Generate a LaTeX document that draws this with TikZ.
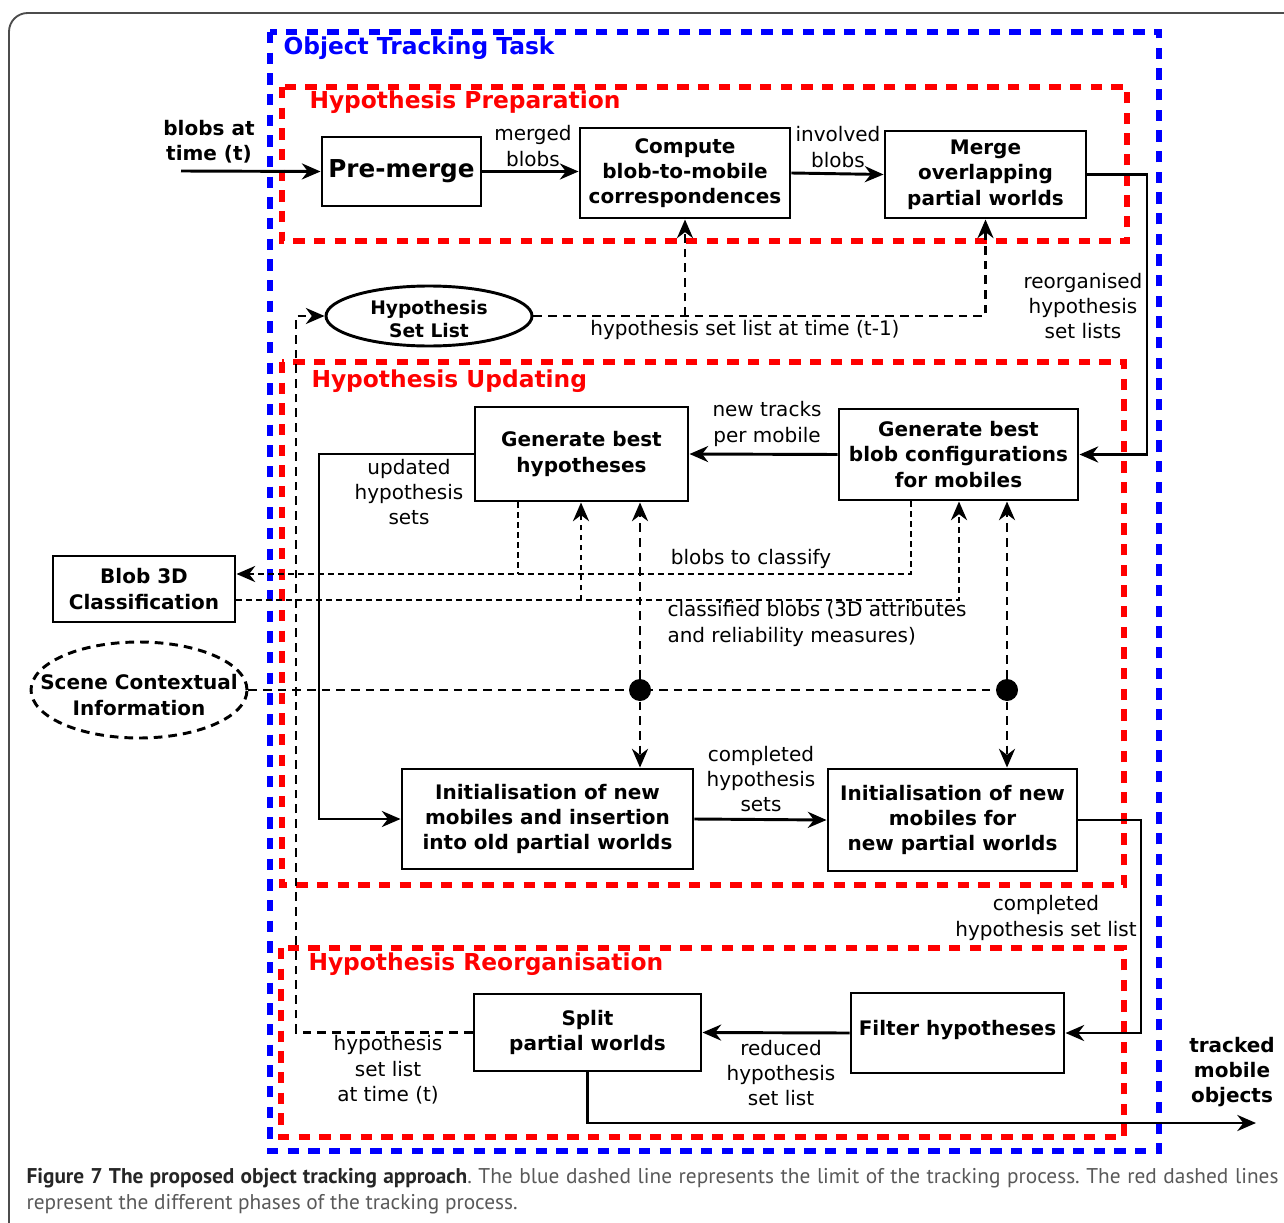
\documentclass[tikz,border=0pt]{standalone}
\usepackage{fontspec}
\setmainfont{DejaVu Sans}
\newfontfamily\captionfont{PT Sans}
\usetikzlibrary{arrows.meta,shapes.geometric}

\tikzset{every picture/.style={line width=0.75pt}}
\tikzset{
  box/.style={draw, line width=2.2pt, align=center, inner sep=0pt, font=\bfseries\fontsize{15}{19}\selectfont},
  lbl/.style={align=center, inner sep=0pt, font=\fontsize{15}{19}\selectfont},
  blbl/.style={align=center, inner sep=0pt, font=\bfseries\fontsize{15}{19}\selectfont},
  limit/.style={draw=blue, line width=3.8pt, dash pattern=on 8.5pt off 7pt},
  phase/.style={draw=red, line width=3.8pt, dash pattern=on 8.5pt off 7pt},
  ptitle/.style={anchor=west, inner sep=0pt, font=\bfseries\fontsize{17.5}{20}\selectfont},
  solidln/.style={line width=2.2pt},
  dashln/.style={line width=2.2pt, dash pattern=on 6.5pt off 4.5pt},
  dotln/.style={line width=2.2pt, dash pattern=on 4pt off 3.5pt},
  arr/.style={-{Stealth[length=14pt,width=12pt,inset=4.5pt]}},
  blob/.style={circle, fill, inner sep=0pt, minimum size=16.5pt},
}

\begin{document}
\begin{tikzpicture}[x=0.75pt,y=0.75pt,yscale=-1,xscale=1]
        \useasboundingbox (0,0) rectangle (1284,1223);
        \clip (0,0) rectangle (1284,1223);

        %Shape: Rounded Rectangle [frame]
        \draw [line width=1.4pt, color=black!70, rounded corners=14pt] (9,13) rectangle (1320,1260);

        %Shape: Rectangle [tracking task]
        \draw [limit] (270,32) rectangle (1159,1151);
        %Shape: Rectangle [phases]
        \draw [phase] (282,87) rectangle (1127,241);
        \draw [phase] (282,362) rectangle (1124,885);
        \draw [phase] (281,948) rectangle (1124,1137);

        % Titles
        \draw (283,48) node [ptitle, text=blue] (ttask) {Object Tracking Task};
        \draw (309,102) node [ptitle, text=red] (tprep) {Hypothesis Preparation};
        \draw (311,381) node [ptitle, text=red] (tupd) {Hypothesis Updating};
        \draw (308,964) node [ptitle, text=red] (treorg) {Hypothesis Reorganisation};

        % Process boxes
        \draw (401.5,171.5) node [box, minimum width=119.25pt, minimum height=51.75pt, font=\bfseries\fontsize{18.5}{22}\selectfont] (premerge) {Pre-merge};
        \draw (685,173) node [box, minimum width=157.5pt, minimum height=67.5pt] (compute) {Compute\\blob-to-mobile\\correspondences};
        \draw (985.5,174.5) node [box, minimum width=150.75pt, minimum height=65.25pt] (merge) {Merge\\overlapping\\partial worlds};
        \draw (581.5,454) node [box, minimum width=159.75pt, minimum height=70.5pt] (genhyp) {Generate best\\hypotheses};
        \draw (958.5,454.5) node [box, minimum width=179.25pt, minimum height=68.25pt] (blobcfg) {Generate best\\blob configurations\\for mobiles};
        \draw (144,589) node [box, minimum width=136.5pt, minimum height=49.5pt] (blobclass) {Blob 3D\\Classification};
        \draw (547.5,819) node [box, minimum width=218.25pt, minimum height=75pt] (initold) {Initialisation of new\\mobiles and insertion\\into old partial worlds};
        \draw (952.5,820) node [box, minimum width=186.75pt, minimum height=76.5pt] (initnew) {Initialisation of new\\mobiles for\\new partial worlds};
        \draw (957.5,1033) node [box, minimum width=159.75pt, minimum height=60pt] (filter) {};
        \draw (957.5,1030) node [blbl] (filtertxt) {Filter hypotheses};
        \draw (587.5,1032.5) node [box, minimum width=170.25pt, minimum height=57.75pt] (split) {Split\\partial worlds};

        %Shape: Ellipse
        \draw (429,316) node [ellipse, draw, line width=2.2pt, minimum width=154.5pt, minimum height=45pt] (hsl) {};
        \draw (429,319) node [blbl, font=\bfseries\fontsize{14}{17}\selectfont] (hsltxt) {Hypothesis\\Set List};
        \draw (139,690) node [ellipse, draw, dashln, minimum width=162pt, minimum height=72pt] (scene) {};
        \draw (139,695) node [blbl] (scenetxt) {Scene Contextual\\Information};

        % Junctions
        \draw (640,690) node [blob] (jold) {};
        \draw (1007,690) node [blob] (jnew) {};

        % Bend points
        \coordinate (input) at (181,171);
        \coordinate (reorg) at (1147,300);
        \coordinate (upd) at (319,454);
        \coordinate (cmpl) at (1141,900);
        \coordinate (fbk) at (296,316);
        \coordinate (toclass) at (911,574);
        \coordinate (toclass2) at (518,574);
        \coordinate (classd) at (959,600);
        \coordinate (classd2) at (581,600);
        \coordinate (tracked) at (1256,1123);

        %Straight Lines [solid flow]
        \draw [solidln, arr] (input) -- (premerge.west);
        \draw [solidln, arr] (premerge.east) -- (compute.west |- premerge.east);
        \draw [solidln, arr] (compute.east) -- (merge.west);
        \draw [solidln, arr] (merge.east) -| (reorg) |- (blobcfg.east);
        \draw [solidln, arr] (blobcfg.west) -- (genhyp.east);
        \draw [solidln, arr] (genhyp.west) -- (upd) |- (initold.west);
        \draw [solidln, arr] (initold.east) -- (initnew.west);
        \draw [solidln, arr] (initnew.east) -| (cmpl) |- (filter.east);
        \draw [solidln, arr] (filter.west) -- (split.east);
        \draw [solidln, arr] (split.south) |- (tracked);

        %Straight Lines [hypothesis set list]
        \draw [dashln, arr] (hsl.east) -| (merge.south);
        \draw [dashln, arr] (compute.south |- hsl.east) -- (compute.south);
        \draw [dashln, arr] (split.west) -| (fbk) -- (hsl.west);

        %Straight Lines [classification]
        \draw [dotln, arr] (blobcfg.south -| toclass) -- (toclass) -- (blobclass.east |- toclass);
        \draw [dotln] (genhyp.south -| toclass2) -- (toclass2);
        \draw [dotln, arr] (blobclass.east |- classd) -- (classd) -- (blobcfg.south -| classd);
        \draw [dotln, arr] (classd2) -- (genhyp.south -| classd2);

        %Straight Lines [scene context]
        \draw [dashln] (scene.east) -- (jnew);
        \draw [dashln, arr] (jold) -- (genhyp.south -| jold);
        \draw [dashln, arr] (jold) -- (initold.north -| jold);
        \draw [dashln, arr] (jnew) -- (blobcfg.south -| jnew);
        \draw [dashln, arr] (jnew) -- (initnew.north -| jnew);

        % Text Node
        \draw (209,142) node [blbl] (inlbl) {blobs at\\time (t)};
        \draw (533,146) node [lbl] (mergedlbl) {merged\\blobs};
        \draw (838,147) node [lbl] (involvedlbl) {involved\\blobs};
        \draw (1083,306) node [lbl] (reorglbl) {reorganised\\hypothesis\\set lists};
        \draw (745,330) node [lbl] (prevlbl) {hypothesis set list at time (t-1)};
        \draw (767,424) node [lbl] (trackslbl) {new tracks\\per mobile};
        \draw (409,492) node [lbl] (updlbl) {updated\\hypothesis\\sets};
        \draw (751,559) node [lbl] (toclasslbl) {blobs to classify};
        \draw (667,624) node [lbl, anchor=west, align=left] (classdlbl) {classified blobs (3D attributes\\and reliability measures)};
        \draw (761,779) node [lbl] (cmplsetslbl) {completed\\hypothesis\\sets};
        \draw (1046,918) node [lbl] (cmpllistlbl) {completed\\hypothesis set list};
        \draw (781,1073) node [lbl] (reducedlbl) {reduced\\hypothesis\\set list};
        \draw (388,1070) node [lbl] (curlbl) {hypothesis\\set list\\at time (t)};
        \draw (1232,1072) node [blbl] (outlbl) {tracked\\mobile\\objects};

        % Caption
        \draw (26,1168) node [anchor=north west, inner sep=0pt, text width=939pt, align=justify, text=black!65, font=\captionfont\frenchspacing\fontsize{16}{19.5}\selectfont] (caption) {{\bfseries\color{black!85}Figure 7 The proposed object tracking approach}. The blue dashed line represents the limit of the tracking process. The red dashed lines\linebreak represent the different phases of the tracking process.};

    \end{tikzpicture}
\end{document}
